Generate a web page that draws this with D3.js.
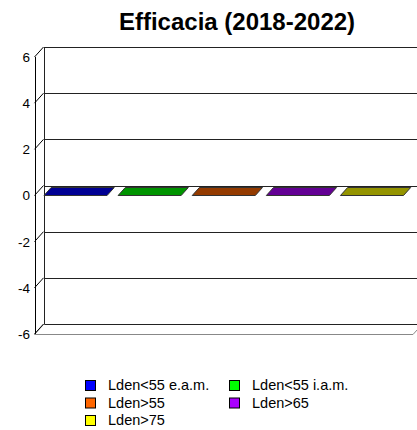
<!DOCTYPE html>
<html>
<head>
<meta charset="utf-8">
<script src="https://cdn.jsdelivr.net/npm/d3@7"></script>
<style>
  html, body { margin: 0; padding: 0; background: #fff; }
  svg { display: block; font-family: "Liberation Sans", Arial, sans-serif; }
</style>
</head>
<body>
<svg id="chart" width="417" height="430"></svg>
<script>
// Chart data
const title = "Efficacia (2018-2022)";
const seriesNames = ["Lden<55 e.a.m.", "Lden<55 i.a.m.", "Lden>55", "Lden>65", "Lden>75"];
const seriesValues = [0, 0, 0, 0, 0];
const seriesColors = ["#0000FF", "#00FF00", "#FF6600", "#AA00FF", "#FFFF00"];
const yTicks = [-6, -4, -2, 0, 2, 4, 6];

const svg = d3.select("#chart");

// 3D box geometry: front plane and depth offset of the back wall
const depthX = 9, depthY = 10;
const barDepth = 0.8;           // bars take this share of the box depth
const front = { left: 34.5, right: 413, top: 57, bottom: 334 };

const y = d3.scaleLinear().domain([-6, 6]).range([front.bottom, front.top]);
const x = d3.scaleBand().domain(seriesNames)
  .range([front.left, front.right]).paddingInner(0.149).paddingOuter(0.128);

const crisp = v => Math.round(v) + 0.5;

// Title
svg.append("text")
  .attr("x", 237).attr("y", 30)
  .attr("text-anchor", "middle")
  .style("font-size", "24px").style("font-weight", "bold")
  .text(title);

// Floor
const backLeft = front.left + depthX;
svg.append("path")
  .attr("d", `M${front.left},${crisp(front.bottom)} L${front.right},${crisp(front.bottom)} L${front.right + depthX},${crisp(front.bottom - depthY)} L${backLeft},${crisp(front.bottom - depthY)} Z`)
  .attr("fill", "#fff").attr("stroke", "#888").attr("stroke-width", 1);

// Back wall gridlines
svg.append("g").selectAll("line").data(yTicks).join("line")
  .attr("x1", crisp(backLeft)).attr("x2", 417 + depthX)
  .attr("y1", d => crisp(y(d) - depthY)).attr("y2", d => crisp(y(d) - depthY))
  .attr("stroke", "#222").attr("stroke-width", 1);

// Back wall left edge
svg.append("line")
  .attr("x1", crisp(backLeft)).attr("x2", crisp(backLeft))
  .attr("y1", y(6) - depthY).attr("y2", y(-6) - depthY)
  .attr("stroke", "#222");

// Front axis line with oblique ticks running to the back wall
const yAxis = svg.append("g");
yAxis.append("line")
  .attr("x1", crisp(front.left)).attr("x2", crisp(front.left))
  .attr("y1", y(6)).attr("y2", y(-6))
  .attr("stroke", "#000");
yAxis.selectAll("line.tick").data(yTicks).join("line")
  .attr("class", "tick")
  .attr("x1", front.left).attr("y1", d => y(d))
  .attr("x2", backLeft).attr("y2", d => y(d) - depthY)
  .attr("stroke", "#000");
yAxis.selectAll("text").data(yTicks).join("text")
  .attr("x", 30).attr("y", d => y(d))
  .attr("dy", "0.36em")
  .attr("text-anchor", "end")
  .style("font-size", "13.5px")
  .text(d => d);

// Bars (oblique boxes; zero values show only the top face)
const shade = c => { const k = d3.rgb(c); return d3.rgb(k.r * 0.58, k.g * 0.58, k.b * 0.58).formatHex(); };
const bdx = depthX * barDepth, bdy = depthY * barDepth;
const bars = svg.append("g");
seriesNames.forEach((name, i) => {
  const v = seriesValues[i];
  const x0 = x(name), x1 = x0 + x.bandwidth();
  const yTop = y(Math.max(v, 0)), yBot = y(Math.min(v, 0));
  const fill = seriesColors[i];
  if (yBot - yTop > 0) {
    bars.append("rect").attr("x", x0).attr("y", yTop).attr("width", x1 - x0).attr("height", yBot - yTop)
      .attr("fill", fill).attr("stroke", "#333");
    bars.append("path")
      .attr("d", `M${x1},${yTop} L${x1 + bdx},${yTop - bdy} L${x1 + bdx},${yBot - bdy} L${x1},${yBot} Z`)
      .attr("fill", shade(fill)).attr("stroke", "#333");
  }
  bars.append("path")
    .attr("d", `M${x0},${yTop} L${x1},${yTop} L${x1 + bdx},${yTop - bdy} L${x0 + bdx},${yTop - bdy} Z`)
    .attr("fill", shade(fill)).attr("stroke", "#333").attr("stroke-width", 1);
});

// Legend: two columns, filled row by row
const legend = svg.append("g");
const colX = [85, 229], rowY = [380, 397.5, 415];
seriesNames.forEach((name, i) => {
  const cx = colX[i % 2], ry = rowY[Math.floor(i / 2)];
  const g = legend.append("g").attr("transform", `translate(${cx},${ry})`);
  g.append("rect").attr("x", 0.5).attr("y", 0.5).attr("width", 10).attr("height", 10)
    .attr("fill", seriesColors[i]).attr("stroke", "#000");
  g.append("text").attr("x", 23).attr("y", 10)
    .style("font-size", "14.5px")
    .text(name);
});
</script>
</body>
</html>
